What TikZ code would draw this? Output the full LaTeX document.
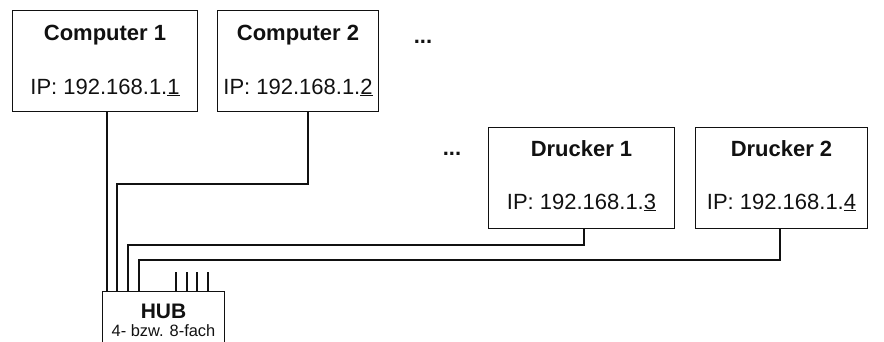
\documentclass[tikz,border=0pt]{standalone}
\usepackage{fontspec}
\setmainfont{Liberation Sans}
\usetikzlibrary{positioning}
\definecolor{Ink}{HTML}{111111}
\tikzset{
  device/.style={
    draw=Ink,line width=1pt,minimum width=#1,minimum height=101pt,
    inner sep=0pt,anchor=north west
  },
  hubbox/.style={
    draw=Ink,line width=1pt,minimum width=122pt,minimum height=80pt,
    inner sep=0pt,anchor=north west
  },
  title/.style={font=\fontsize{22}{26}\selectfont\bfseries,text=Ink,anchor=base},
  addr/.style={font=\fontsize{22}{26}\selectfont,text=Ink,anchor=base},
  wire/.style={draw=Ink,line width=2pt}
}
\begin{document}
\begin{tikzpicture}[x=1pt,y=-1pt]
  \useasboundingbox (0,0) rectangle (884,341);
  \clip (0,0) rectangle (884,341);
  % devices
  \node[device=185pt] (c1) at (12,10) {};
  \node[device=161pt] (c2) at (217,10) {};
  \node[device=186pt] (d1) at (488,127) {};
  \node[device=172pt] (d2) at (695,127) {};
  \node[title] (c1t) at ([yshift=-30pt]c1.north) {Computer 1};
  \node[addr] (c1ip) at ([yshift=-84pt]c1.north) {IP: 192.168.1.\underline{1}};
  \node[title] (c2t) at ([yshift=-30pt]c2.north) {Computer 2};
  \node[addr] (c2ip) at ([yshift=-84pt]c2.north) {IP: 192.168.1.\underline{2}};
  \node[title] (d1t) at ([yshift=-29pt]d1.north) {Drucker 1};
  \node[addr] (d1ip) at ([yshift=-82pt]d1.north) {IP: 192.168.1.\underline{3}};
  \node[title] (d2t) at ([yshift=-29pt]d2.north) {Drucker 2};
  \node[addr] (d2ip) at ([yshift=-82pt]d2.north) {IP: 192.168.1.\underline{4}};
  \node[title] (more1) at (423,43) {...};
  \node[title] (more2) at (452,155) {...};
  % hub
  \node[hubbox] (hub) at (102,291) {};
  \node[font=\fontsize{21}{24}\selectfont\bfseries,text=Ink,anchor=base]
    (hubt) at ([yshift=-27pt]hub.north) {HUB};
  \node[font=\fontsize{16.4}{18}\selectfont,text=Ink,anchor=base]
    (hubs) at ([yshift=-45pt]hub.north) {4- bzw. 8-fach};
  \coordinate (p1) at (107,291);
  \coordinate (p2) at (117,291);
  \coordinate (p3) at (128,291);
  \coordinate (p4) at (139,291);
  \foreach \x in {176,187,197,208}
    \draw[wire] (\x,272) -- (\x,291);
  % cables
  \draw[wire] (c1.south -| p1) -- (p1);
  \draw[wire] ([xshift=10pt]c2.south) -- ++(0,72) -| (p2);
  \draw[wire] ([xshift=2pt]d1.south) -- ++(0,16) -| (p3);
  \draw[wire] ([xshift=-2pt]d2.south) -- ++(0,31) -| (p4);
\end{tikzpicture}
\end{document}
